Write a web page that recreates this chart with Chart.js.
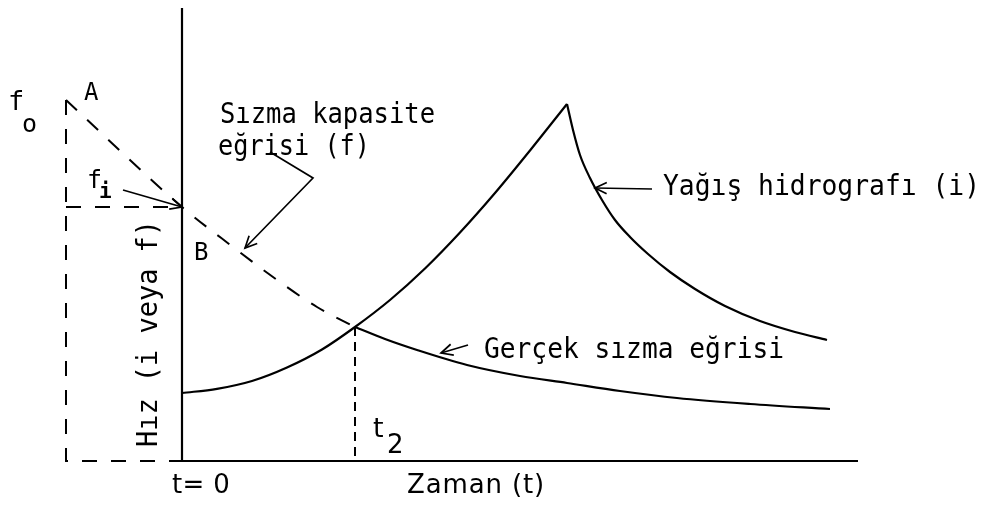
<!DOCTYPE html>
<html>
<head>
<meta charset="utf-8">
<script src="https://cdn.jsdelivr.net/npm/chart.js"></script>
<style>
  html, body { margin: 0; padding: 0; background: #fff; }
  #kutu { width: 982px; height: 515px; }
</style>
</head>
<body>
<div id="kutu"><canvas id="sizmaChart"></canvas></div>
<script>
// Zaman (t) ve hız (i veya f) değerleri; t = 0 düşey eksen üzerinde
const yagisT = [0, 3.5, 7.0, 10.5, 14.0, 17.3, 20.8, 24.3, 27.8, 31.3, 34.8, 38.5];
const yagisI = [6.8, 7.22, 8.0, 9.35, 11.15, 13.4, 16.1, 19.25, 22.85, 26.8, 31.05, 35.7];

const cekilmeT = [38.5, 39.1, 39.8, 40.8, 42.0, 43.3, 44.8, 46.6, 48.8, 51.3, 54.3, 57.8, 61.3, 64.5];
const cekilmeI = [35.7, 33.1, 30.6, 28.3, 26.1, 24.1, 22.4, 20.7, 18.9, 17.2, 15.5, 14.0, 12.9, 12.1];

// sızma kapasite eğrisi (f), A noktasından t2'ye kadar
const kapasiteT = [-11.6, 0, 5.1, 9.1, 13.5, 17.3];
const kapasiteF = [36.1, 25.4, 21.4, 18.4, 15.4, 13.4];

// gerçek sızma eğrisi, t2'den sonra
const gercekT = [17.3, 20.3, 23.5, 28.5, 33.8, 38.5, 43.8, 49.5, 56.8, 64.8];
const gercekF = [13.4, 12.2, 11.1, 9.6, 8.5, 7.8, 7.0, 6.3, 5.7, 5.2];

const t2 = 17.3;
const fo = 36.1;
const fi = 25.4;
const tBas = -11.6;
const eksenUst = 45.3;
const eksenSon = 67.6;

function noktalar(ts, vs) {
  return ts.map((t, k) => ({ x: t, y: vs[k] }));
}

function cizgi(veri, ekstra) {
  return Object.assign({
    data: veri,
    borderColor: '#000',
    borderWidth: 2.2,
    pointRadius: 0,
    fill: false,
    tension: 0
  }, ekstra || {});
}

const yumusak = { cubicInterpolationMode: 'monotone' };
const kesikli = { borderWidth: 2, borderDash: [15, 14] };

const veriSetleri = [
  // eksenler
  cizgi([{ x: 0, y: eksenUst }, { x: 0, y: 0 }, { x: eksenSon, y: 0 }]),
  // yağış hidrografı
  cizgi(noktalar(yagisT, yagisI), yumusak),
  cizgi(noktalar(cekilmeT, cekilmeI), yumusak),
  // sızma kapasite eğrisi (kesikli)
  cizgi(noktalar(kapasiteT, kapasiteF), Object.assign({}, yumusak, kesikli)),
  // gerçek sızma eğrisi
  cizgi(noktalar(gercekT, gercekF), yumusak),
  // sol taraftaki kesikli çerçeve
  cizgi([{ x: tBas, y: fo }, { x: tBas, y: 0 }, { x: 0, y: 0 }], kesikli),
  cizgi([{ x: tBas, y: fi }, { x: 0, y: fi }], kesikli),
  // t2 düşey çizgisi
  cizgi([{ x: t2, y: gercekF[0] }, { x: t2, y: 0 }], { borderWidth: 2, borderDash: [9, 6] })
];

const mono = '"DejaVu Sans Mono", monospace';
const sans = '"DejaVu Sans", sans-serif';

// yazılar: konum veri biriminde, genişlik piksel
const yazilar = [
  { metin: 'f', t: -17.4, h: 35.1, font: '27px ' + mono },
  { metin: 'o', t: -16.0, h: 32.9, font: '25px ' + mono },
  { metin: 'A', t: -9.8, h: 36.1, font: '24px ' + mono },
  { metin: 'f', t: -9.5, h: 27.3, font: '25px ' + mono },
  { metin: 'i', t: -8.3, h: 26.3, font: 'bold 21px ' + mono },
  { metin: 'B', t: 1.2, h: 20.1, font: '24px ' + mono },
  { metin: 'Sızma kapasite', t: 3.8, h: 33.8, font: '29px ' + mono, gen: 215 },
  { metin: 'eğrisi (f)', t: 3.6, h: 30.6, font: '29px ' + mono, gen: 152 },
  { metin: 'Yağış hidrografı (i)', t: 48.1, h: 26.6, font: '29px ' + mono, gen: 317 },
  { metin: 'Gerçek sızma eğrisi', t: 30.2, h: 10.3, font: '29px ' + mono, gen: 300 },
  { metin: 'Hız (i veya f)', t: -2.5, h: 1.4, font: '29px ' + mono, gen: 227, dik: true },
  { metin: 't= 0', t: -1.0, h: -3.2, font: '26px ' + sans, gen: 58 },
  { metin: 'Zaman (t)', t: 22.5, h: -3.2, font: '26px ' + sans, gen: 138 },
  { metin: 't', t: 19.1, h: 2.4, font: '27px ' + sans },
  { metin: '2', t: 20.5, h: 0.8, font: '26px ' + sans }
];

// oklar: son noktada ok ucu
const oklar = [
  [[-5.9, 27.1], [0, 25.4]],
  [[8.8, 30.9], [13.1, 28.3], [6.3, 21.3]],
  [[47.0, 27.2], [41.3, 27.3]],
  [[28.6, 11.6], [25.9, 10.8]]
];

function yaz(ctx, y0, px, py) {
  ctx.font = y0.font;
  ctx.letterSpacing = '0px';
  let dogal = ctx.measureText(y0.metin).width;
  if (y0.gen && dogal < y0.gen) {
    ctx.letterSpacing = ((y0.gen - dogal) / y0.metin.length).toFixed(2) + 'px';
  }
  ctx.save();
  ctx.translate(px, py);
  if (y0.dik) ctx.rotate(-Math.PI / 2);
  if (y0.gen && dogal > y0.gen) ctx.fillText(y0.metin, 0, 0, y0.gen);
  else ctx.fillText(y0.metin, 0, 0);
  ctx.restore();
}

const yaziEklentisi = {
  id: 'yazilar',
  afterDatasetsDraw(chart) {
    const ctx = chart.ctx;
    const sx = chart.scales.x, sy = chart.scales.y;
    ctx.save();
    ctx.fillStyle = '#000';
    ctx.strokeStyle = '#000';
    ctx.textAlign = 'left';
    ctx.textBaseline = 'alphabetic';
    yazilar.forEach(y0 => yaz(ctx, y0, sx.getPixelForValue(y0.t), sy.getPixelForValue(y0.h)));

    ctx.lineWidth = 1.7;
    ctx.letterSpacing = '0px';
    oklar.forEach(ok => {
      const p = ok.map(n => [sx.getPixelForValue(n[0]), sy.getPixelForValue(n[1])]);
      ctx.beginPath();
      ctx.moveTo(p[0][0], p[0][1]);
      for (let k = 1; k < p.length; k++) ctx.lineTo(p[k][0], p[k][1]);
      ctx.stroke();
      const uc = p[p.length - 1], once = p[p.length - 2];
      const a = Math.atan2(uc[1] - once[1], uc[0] - once[0]);
      ctx.beginPath();
      ctx.moveTo(uc[0] - 13 * Math.cos(a - 0.45), uc[1] - 13 * Math.sin(a - 0.45));
      ctx.lineTo(uc[0], uc[1]);
      ctx.lineTo(uc[0] - 13 * Math.cos(a + 0.45), uc[1] - 13 * Math.sin(a + 0.45));
      ctx.stroke();
    });
    ctx.restore();
  }
};

new Chart(document.getElementById('sizmaChart'), {
  type: 'line',
  data: { datasets: veriSetleri },
  options: {
    responsive: true,
    maintainAspectRatio: false,
    animation: false,
    layout: { padding: 0 },
    plugins: { legend: { display: false }, tooltip: { enabled: false } },
    scales: {
      x: { type: 'linear', min: -18.2, max: 80.0, display: false },
      y: { type: 'linear', min: -5.4, max: 46.1, display: false }
    }
  },
  plugins: [yaziEklentisi]
});
</script>
</body>
</html>
